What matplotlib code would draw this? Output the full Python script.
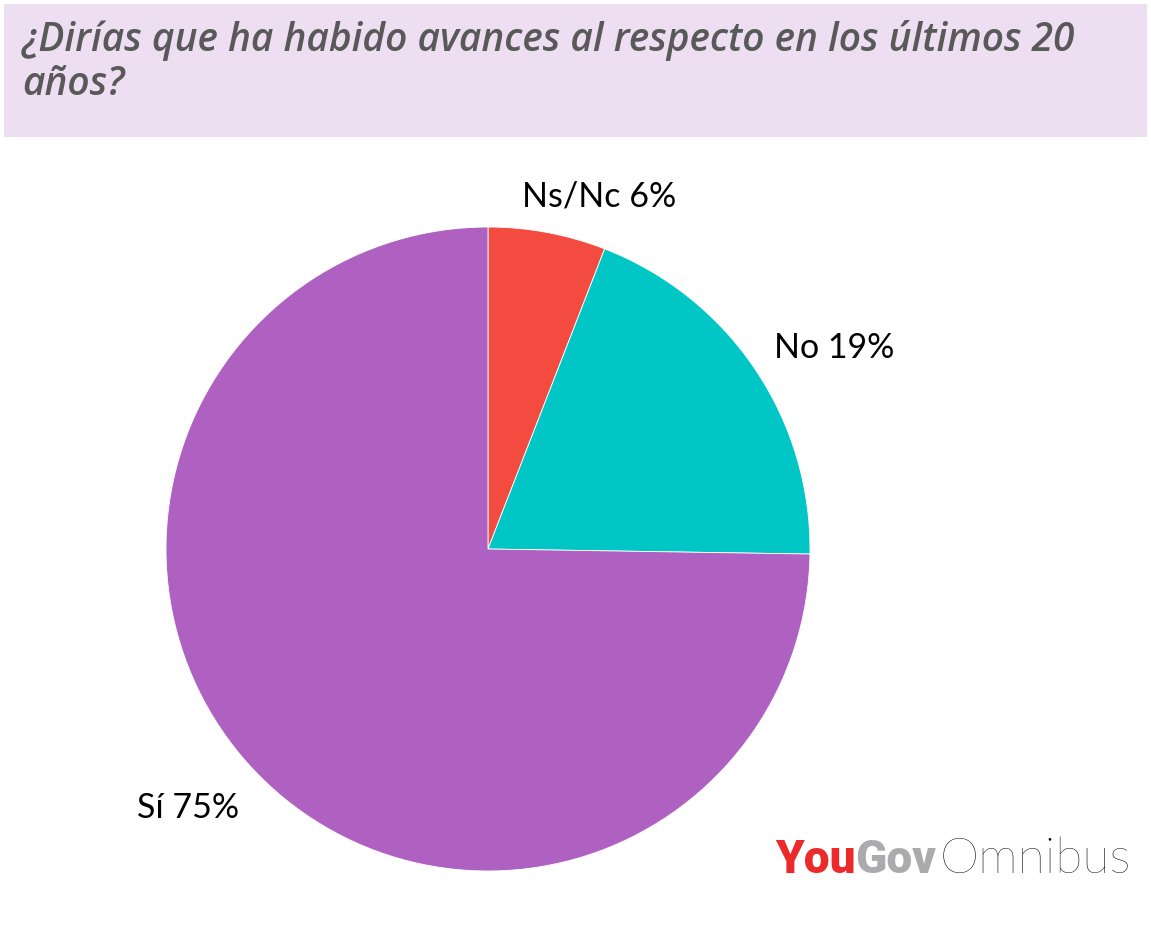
import matplotlib
matplotlib.use("Agg")
import matplotlib.pyplot as plt
from matplotlib.patches import Rectangle

categories = ["Ns/Nc", "No", "Sí"]
values = [5.9, 19.35, 74.75]
labels = ["Ns/Nc 6%", "No 19%", "Sí 75%"]
colors = ["#F44B40", "#00C7C5", "#AF61C2"]
title_lines = ["¿Dirías que ha habido avances al respecto en los últimos 20", "años?"]

W, H = 1151, 943
fig = plt.figure(figsize=(W / 100, H / 100), dpi=100)
fig.patch.set_facecolor("white")

# title band
fig.patches.append(Rectangle((4 / W, 1 - 137 / H), (1147 - 4) / W, (137 - 4) / H,
                             transform=fig.transFigure, facecolor="#EDDFF1",
                             edgecolor="none", zorder=0))
for line, yb in zip(title_lines, [51, 95]):
    fig.text(22 / W, 1 - yb / H, line, ha="left", va="baseline", fontsize=28,
             fontstyle="italic", fontweight="semibold", color="#595959",
             family=["Open Sans", "DejaVu Sans"])

cx, cy, r = 488, 549, 322
ax = fig.add_axes([(cx - r) / W, 1 - (cy + r) / H, 2 * r / W, 2 * r / H])
ax.pie(values, colors=colors, startangle=90, counterclock=False,
       wedgeprops=dict(linewidth=0.6, edgecolor="white"))
ax.set_xlim(-1, 1)
ax.set_ylim(-1, 1)
ax.set_aspect("auto")
ax.axis("off")

label_pos = [(599, 196), (834, 348), (188, 808)]
for lab, (x, y) in zip(labels, label_pos):
    fig.text(x / W, 1 - y / H, lab, ha="center", va="center", fontsize=24.5,
             color="black", family=["Lato", "DejaVu Sans"])

# logo
base = 1 - 873 / H
t1 = fig.text(775 / W, base, "You", ha="left", va="baseline", fontsize=33,
              fontweight="heavy", color="#EC2A2C", family=["Roboto", "DejaVu Sans"])
fig.canvas.draw()
rend = fig.canvas.get_renderer()
bb = t1.get_window_extent(rend)
t2 = fig.text(bb.x1 / W, base, "Gov", ha="left", va="baseline", fontsize=33,
              fontweight="heavy", color="#ABABAD", family=["Roboto", "DejaVu Sans"])
bb2 = t2.get_window_extent(rend)
fig.text((bb2.x1 + 3) / W, base, "Omnibus", ha="left", va="baseline", fontsize=36,
         fontweight="light", color="#000000", family=["Lato", "DejaVu Sans"])

fig.savefig("out.png", dpi=100, facecolor="white")
